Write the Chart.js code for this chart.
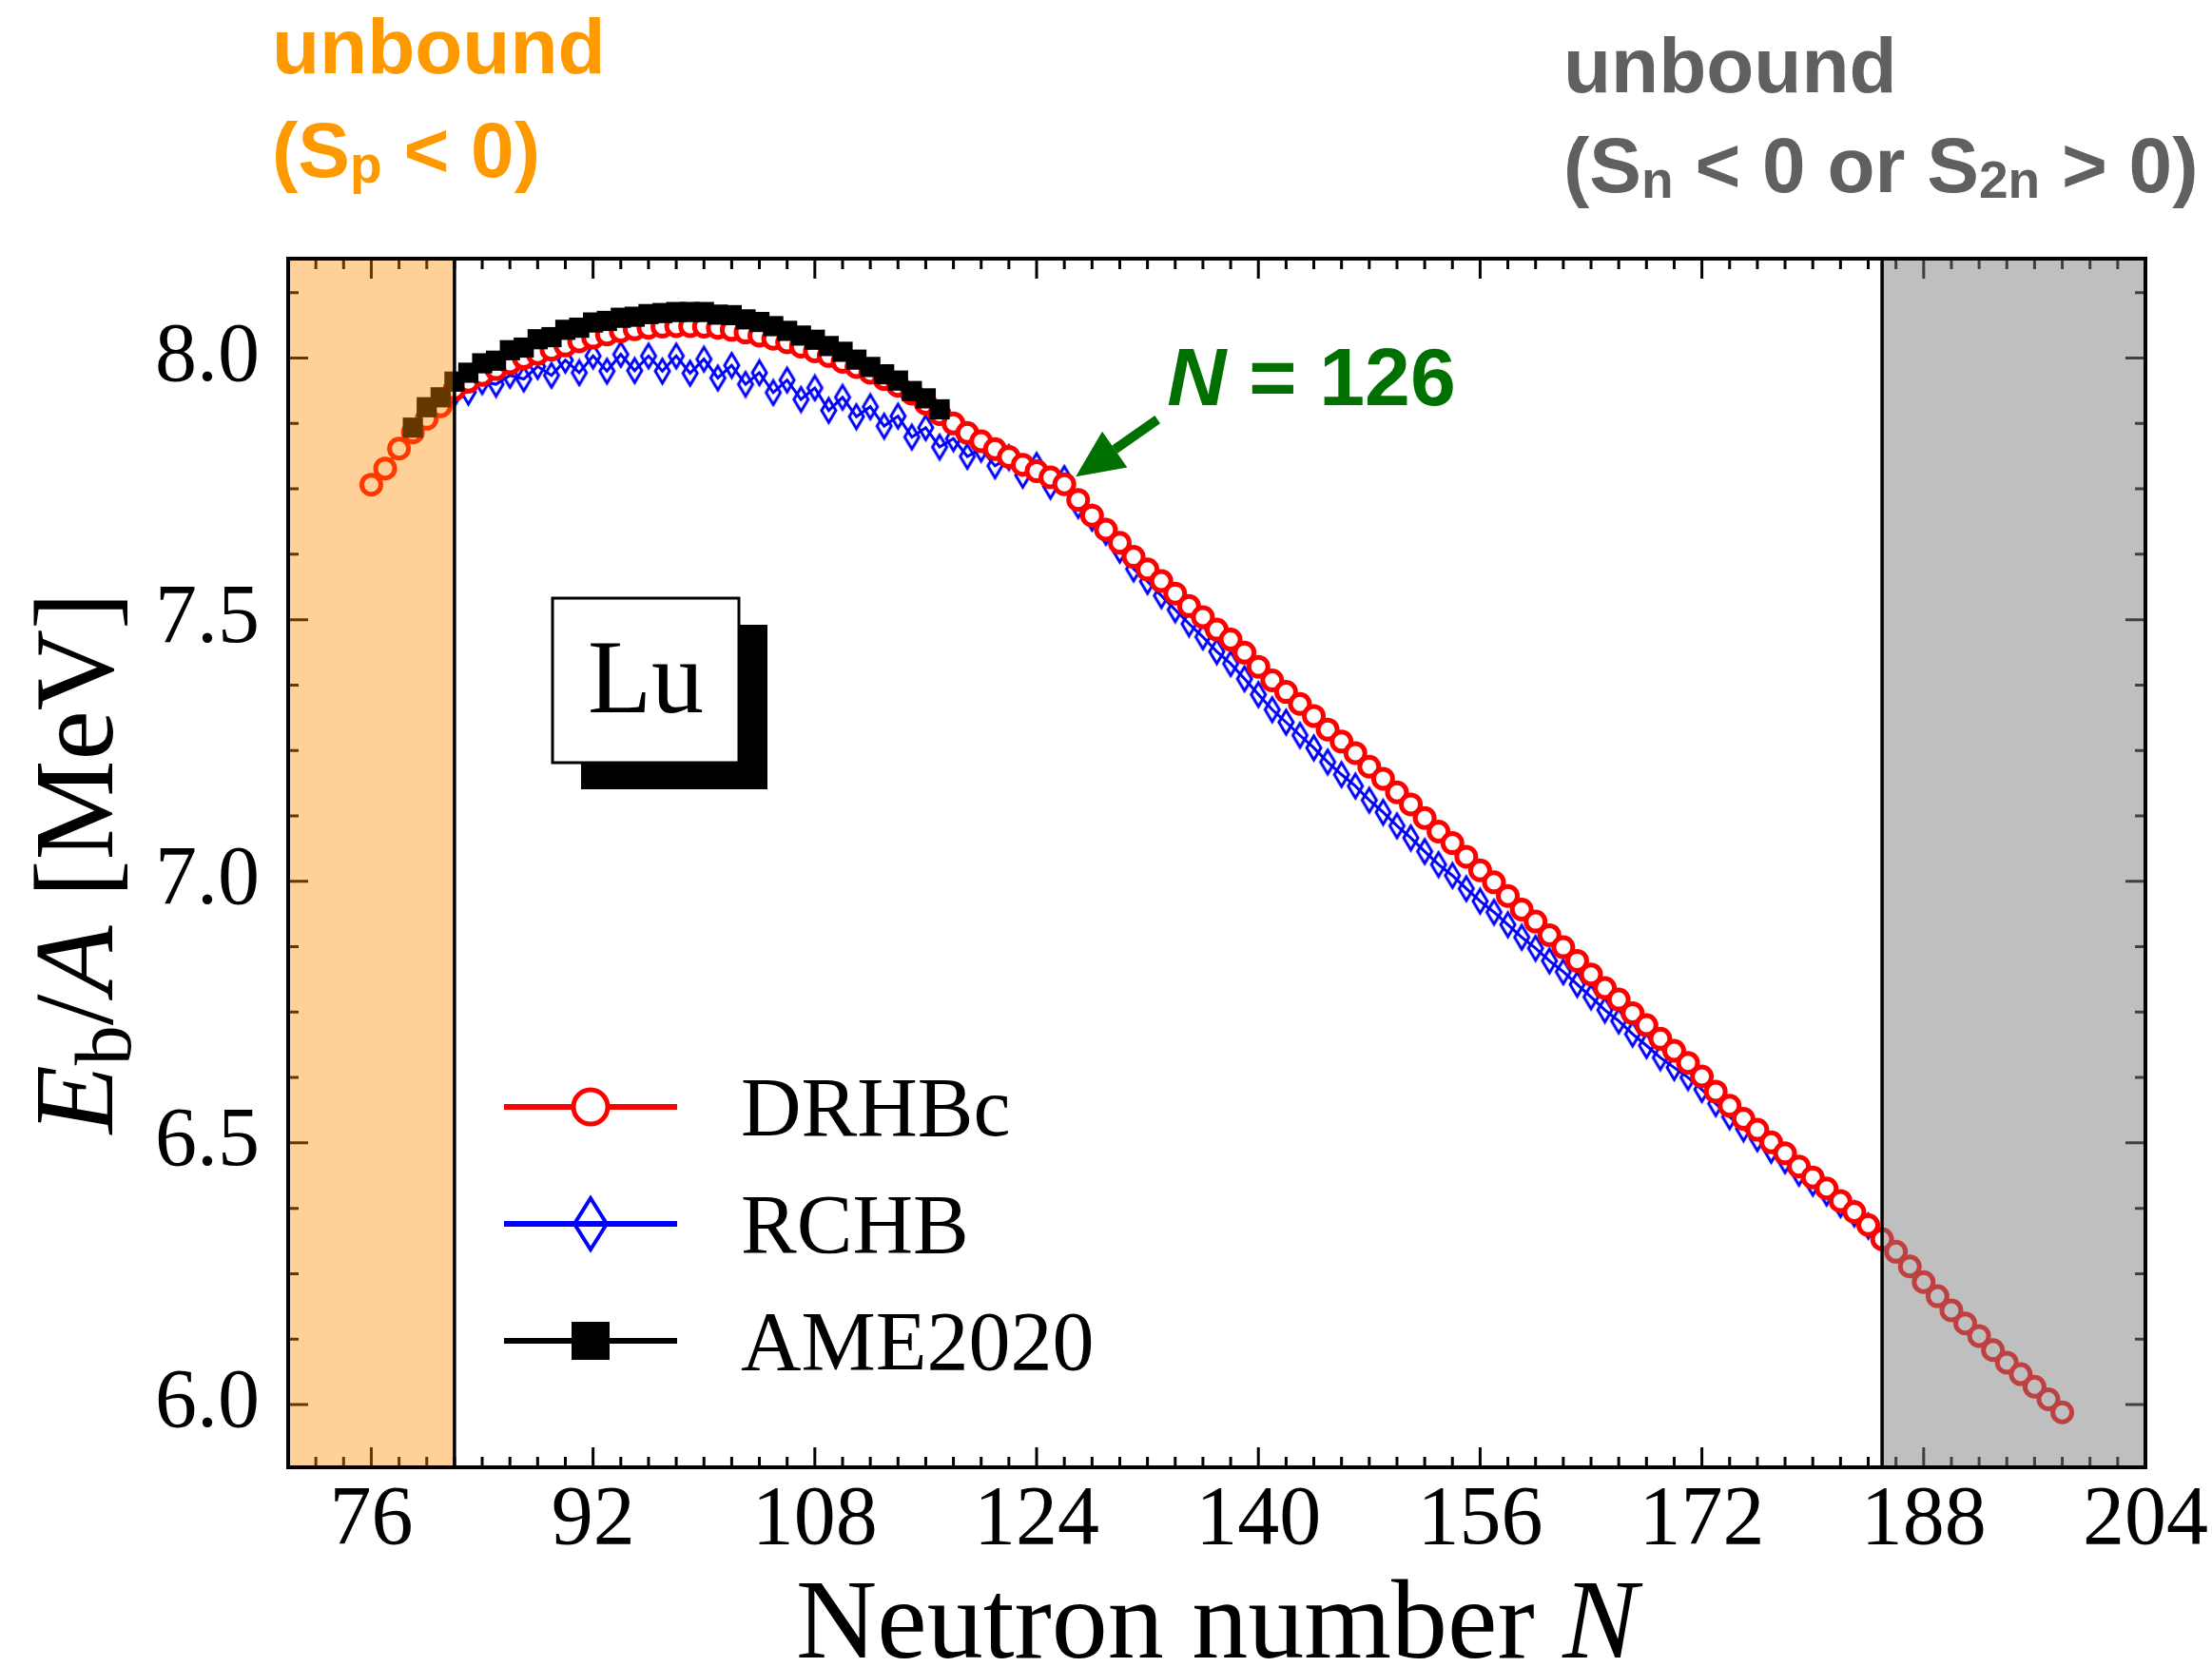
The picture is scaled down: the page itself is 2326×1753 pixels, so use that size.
<!DOCTYPE html>
<html>
<head>
<meta charset="utf-8">
<title>Lu binding energy per nucleon</title>
<script src="https://cdn.jsdelivr.net/npm/chart.js@4/dist/chart.umd.min.js"></script>
<style>
  html, body { margin: 0; padding: 0; background: #fff; }
  #wrap { width: 2326px; height: 1753px; }
</style>
</head>
<body>
<div id="wrap"><canvas id="chart" width="2326" height="1753"></canvas></div>
<script>
// neutron numbers start at these values, one point per N
const drhbcFirstN = 76
const rchbFirstN = 82
const ameFirstN = 79

// E_b/A in MeV
const drhbcEb = [
  7.758, 7.789, 7.827, 7.858, 7.884, 7.908, 7.940, 7.955, 7.968, 7.979,   // 76-85
  7.990, 8.000, 8.008, 8.016, 8.024, 8.032, 8.039, 8.045, 8.051, 8.055,   // 86-95
  8.058, 8.060, 8.061, 8.061, 8.060, 8.058, 8.054, 8.049, 8.043, 8.037,   // 96-105
  8.030, 8.022, 8.013, 8.004, 7.993, 7.983, 7.972, 7.960, 7.947, 7.932,   // 106-115
  7.913, 7.893, 7.875, 7.857, 7.841, 7.826, 7.811, 7.796, 7.784, 7.772,   // 116-125
  7.759, 7.729, 7.699, 7.672, 7.647, 7.620, 7.596, 7.574, 7.550, 7.526,   // 126-135
  7.505, 7.481, 7.462, 7.437, 7.410, 7.384, 7.362, 7.339, 7.316, 7.290,   // 136-145
  7.267, 7.245, 7.219, 7.196, 7.170, 7.147, 7.121, 7.095, 7.073, 7.047,   // 146-155
  7.021, 6.998, 6.972, 6.946, 6.923, 6.897, 6.874, 6.848, 6.822, 6.796,   // 156-165
  6.774, 6.748, 6.725, 6.699, 6.676, 6.653, 6.627, 6.598, 6.571, 6.546,   // 166-175
  6.525, 6.501, 6.480, 6.455, 6.434, 6.413, 6.389, 6.368, 6.343, 6.316,   // 176-185
  6.292, 6.264, 6.234, 6.207, 6.180, 6.155, 6.131, 6.104, 6.080, 6.058,   // 186-195
  6.034, 6.010, 5.985                                                     // 196-198
]

const rchbEb = [
  7.932, 7.935, 7.955, 7.950, 7.967, 7.960, 7.984, 7.967, 7.996, 7.972,   // 82-91
  8.004, 7.975, 8.007, 7.976, 8.004, 7.975, 8.004, 7.971, 7.998, 7.962,   // 92-101
  7.986, 7.950, 7.972, 7.934, 7.958, 7.921, 7.943, 7.900, 7.925, 7.888,   // 102-111
  7.907, 7.870, 7.889, 7.849, 7.867, 7.830, 7.846, 7.812, 7.826, 7.794,   // 112-121
  7.810, 7.776, 7.795, 7.755, 7.770, 7.718, 7.694, 7.667, 7.633, 7.597,   // 122-131
  7.573, 7.546, 7.519, 7.492, 7.467, 7.439, 7.416, 7.387, 7.357, 7.328,   // 132-141
  7.304, 7.279, 7.255, 7.228, 7.204, 7.182, 7.155, 7.132, 7.106, 7.083,   // 142-151
  7.057, 7.032, 7.011, 6.986, 6.962, 6.941, 6.917, 6.893, 6.872, 6.848,   // 152-161
  6.827, 6.803, 6.779, 6.754, 6.733, 6.708, 6.686, 6.663, 6.644, 6.625,   // 162-171
  6.602, 6.575, 6.550, 6.527, 6.508, 6.486, 6.466, 6.442, 6.423, 6.404,   // 172-181
  6.382, 6.364, 6.341                                                     // 182-184
]

const ameEb = [
  7.867, 7.906, 7.925, 7.955, 7.972, 7.990, 7.995, 8.015, 8.020, 8.036,   // 79-88
  8.040, 8.054, 8.058, 8.068, 8.071, 8.077, 8.079, 8.084, 8.086, 8.088,   // 89-98
  8.088, 8.088, 8.083, 8.082, 8.074, 8.069, 8.061, 8.052, 8.043, 8.035,   // 99-108
  8.023, 8.012, 7.997, 7.983, 7.969, 7.957, 7.937, 7.923, 7.902           // 109-117
]

const xTicks = [76, 92, 108, 124, 140, 156, 172, 188, 204]
const yTicks = [6.0, 6.5, 7.0, 7.5, 8.0]

// dripline limits (unbound regions shaded)
const protonDripN = 82
const neutronDripN = 185
const magicN = 126

const serif = '"Liberation Serif", "Times New Roman", serif'
const sans = '"Liberation Sans", Arial, Helvetica, sans-serif'

// turn a value list into {x, y} points
function toPoints(firstN, values) {
  return values.map((v, i) => ({ x: firstN + i, y: v }))
}

// thin diamond marker, hollow
function thinDiamond(w, h, lw, color) {
  const c = document.createElement('canvas')
  c.width = Math.ceil(w + lw * 2)
  c.height = Math.ceil(h + lw * 2)
  const g = c.getContext('2d')
  const cx = c.width / 2, cy = c.height / 2
  g.strokeStyle = color
  g.lineWidth = lw
  g.lineJoin = 'miter'
  g.beginPath()
  g.moveTo(cx, cy - h / 2)
  g.lineTo(cx + w / 2, cy)
  g.lineTo(cx, cy + h / 2)
  g.lineTo(cx - w / 2, cy)
  g.closePath()
  g.stroke()
  return c
}

// draws a run of text pieces with their own fonts / vertical shifts
function drawPieces(ctx, pieces, x, y) {
  let cx = x
  pieces.forEach(p => {
    ctx.font = p.font
    ctx.fillText(p.t, cx, y + (p.dy || 0))
    cx += ctx.measureText(p.t).width
  })
  return cx
}
function piecesWidth(ctx, pieces) {
  let w = 0
  pieces.forEach(p => { ctx.font = p.font; w += ctx.measureText(p.t).width })
  return w
}

const decorations = {
  id: 'decorations',
  beforeDraw(chart) {
    const ctx = chart.ctx
    ctx.save()
    ctx.fillStyle = '#fff'
    ctx.fillRect(0, 0, chart.width, chart.height)
    ctx.restore()
  },
  afterDatasetsDraw(chart) {
    const ctx = chart.ctx
    const a = chart.chartArea
    const xs = chart.scales.x, ys = chart.scales.y

    // inward ticks on all four sides
    ctx.save()
    ctx.strokeStyle = '#000'
    ctx.lineWidth = 3
    for (let n = 70; n <= 204; n += 2) {
      const px = xs.getPixelForValue(n)
      const len = xTicks.includes(n) ? 21 : 11
      ctx.beginPath()
      ctx.moveTo(px, a.bottom); ctx.lineTo(px, a.bottom - len)
      ctx.moveTo(px, a.top); ctx.lineTo(px, a.top + len)
      ctx.stroke()
    }
    for (let k = 0; k <= 17; k++) {
      const v = 6.0 + k * 0.125
      if (v > ys.max) break
      const py = ys.getPixelForValue(v)
      const len = (k % 4 === 0) ? 21 : 11
      ctx.beginPath()
      ctx.moveTo(a.left, py); ctx.lineTo(a.left + len, py)
      ctx.moveTo(a.right, py); ctx.lineTo(a.right - len, py)
      ctx.stroke()
    }

    // unbound regions, see-through so the points show underneath
    const pLeft = xs.getPixelForValue(protonDripN)
    const nRight = xs.getPixelForValue(neutronDripN)
    ctx.fillStyle = 'rgba(255, 140, 0, 0.4)'
    ctx.fillRect(a.left, a.top, pLeft - a.left, a.bottom - a.top)
    ctx.fillStyle = 'rgba(128, 128, 128, 0.5)'
    ctx.fillRect(nRight, a.top, a.right - nRight, a.bottom - a.top)

    ctx.lineWidth = 3.5
    ctx.beginPath()
    ctx.moveTo(pLeft, a.top); ctx.lineTo(pLeft, a.bottom)
    ctx.moveTo(nRight, a.top); ctx.lineTo(nRight, a.bottom)
    ctx.stroke()
    ctx.restore()
  },
  afterDraw(chart) {
    const ctx = chart.ctx
    const a = chart.chartArea
    const xs = chart.scales.x, ys = chart.scales.y
    ctx.save()

    // frame
    ctx.strokeStyle = '#000'
    ctx.lineWidth = 4
    ctx.strokeRect(a.left, a.top, a.right - a.left, a.bottom - a.top)

    // element box with a drop shadow
    const bx = a.left + 278, by = a.top + 357, bw = 196, bh = 173
    ctx.fillStyle = '#000'
    ctx.fillRect(bx + 30, by + 28, bw, bh)
    ctx.fillStyle = '#fff'
    ctx.fillRect(bx, by, bw, bh)
    ctx.lineWidth = 3
    ctx.strokeRect(bx, by, bw, bh)
    ctx.fillStyle = '#000'
    ctx.font = '110px ' + serif
    ctx.textAlign = 'center'
    ctx.textBaseline = 'alphabetic'
    ctx.fillText('Lu', bx + bw / 2, by + 120)

    // legend
    const legendRows = [
      { label: 'DRHBc', color: '#ff0000', mark: 'circle' },
      { label: 'RCHB', color: '#0000ff', mark: 'diamond' },
      { label: 'AME2020', color: '#000000', mark: 'square' }
    ]
    const lx0 = a.left + 227, lx1 = a.left + 409, ly0 = a.top + 892, lstep = 123
    ctx.textAlign = 'left'
    legendRows.forEach((row, i) => {
      const y = ly0 + i * lstep
      const mx = (lx0 + lx1) / 2
      ctx.strokeStyle = row.color
      ctx.lineWidth = 6
      ctx.beginPath(); ctx.moveTo(lx0, y); ctx.lineTo(lx1, y); ctx.stroke()
      if (row.mark === 'circle') {
        ctx.fillStyle = '#fff'
        ctx.lineWidth = 5
        ctx.beginPath(); ctx.arc(mx, y, 18, 0, Math.PI * 2); ctx.fill(); ctx.stroke()
      } else if (row.mark === 'diamond') {
        ctx.lineWidth = 4
        ctx.beginPath()
        ctx.moveTo(mx, y - 27); ctx.lineTo(mx + 17, y); ctx.lineTo(mx, y + 27); ctx.lineTo(mx - 17, y)
        ctx.closePath(); ctx.stroke()
      } else {
        ctx.fillStyle = row.color
        ctx.fillRect(mx - 20, y - 20, 40, 40)
      }
      ctx.fillStyle = '#000'
      ctx.font = '88px ' + serif
      ctx.fillText(row.label, lx1 + 67, y + 30)
    })

    // arrow and label at the N = 126 shell closure
    const px = xs.getPixelForValue(magicN)
    const py = ys.getPixelForValue(drhbcEb[magicN - drhbcFirstN])
    const tipX = px + 12, tipY = py - 8
    const tailX = tipX + 86, tailY = tipY - 60
    const ang = Math.atan2(tipY - tailY, tipX - tailX)
    const headLen = 50, headHalf = 23
    const baseX = tipX - headLen * Math.cos(ang), baseY = tipY - headLen * Math.sin(ang)
    ctx.strokeStyle = '#007000'
    ctx.fillStyle = '#007000'
    ctx.lineWidth = 10
    ctx.beginPath(); ctx.moveTo(tailX, tailY); ctx.lineTo(baseX, baseY); ctx.stroke()
    ctx.beginPath()
    ctx.moveTo(tipX, tipY)
    ctx.lineTo(baseX + headHalf * Math.sin(ang), baseY - headHalf * Math.cos(ang))
    ctx.lineTo(baseX - headHalf * Math.sin(ang), baseY + headHalf * Math.cos(ang))
    ctx.closePath(); ctx.fill()
    drawPieces(ctx, [
      { t: 'N', font: 'italic bold 86px ' + sans },
      { t: ' = 126', font: 'bold 86px ' + sans }
    ], tailX + 10, tailY - 15)

    // unbound labels above the plot
    ctx.fillStyle = '#ff9900'
    ctx.font = 'bold 82px ' + sans
    ctx.fillText('unbound', 286, 77)
    drawPieces(ctx, [
      { t: '(S', font: 'bold 82px ' + sans },
      { t: 'p', font: 'bold 55px ' + sans, dy: 6 },
      { t: ' < 0)', font: 'bold 82px ' + sans }
    ], 286, 186)

    ctx.fillStyle = '#606060'
    ctx.font = 'bold 82px ' + sans
    ctx.fillText('unbound', 1644, 97)
    drawPieces(ctx, [
      { t: '(S', font: 'bold 82px ' + sans },
      { t: 'n', font: 'bold 55px ' + sans, dy: 6 },
      { t: ' < 0 or S', font: 'bold 82px ' + sans },
      { t: '2n', font: 'bold 55px ' + sans, dy: 6 },
      { t: ' > 0)', font: 'bold 82px ' + sans }
    ], 1644, 202)

    // axis titles
    ctx.fillStyle = '#000'
    const xTitle = [
      { t: 'Neutron number ', font: '118px ' + serif },
      { t: 'N', font: 'italic 118px ' + serif }
    ]
    const xw = piecesWidth(ctx, xTitle)
    drawPieces(ctx, xTitle, (a.left + a.right) / 2 - xw / 2, 1743)

    const yTitle = [
      { t: 'E', font: 'italic 118px ' + serif },
      { t: 'b', font: '84px ' + serif, dy: 19 },
      { t: '/', font: '118px ' + serif },
      { t: 'A', font: 'italic 118px ' + serif },
      { t: ' [MeV]', font: '118px ' + serif }
    ]
    const yw = piecesWidth(ctx, yTitle)
    ctx.translate(118, (a.top + a.bottom) / 2)
    ctx.rotate(-Math.PI / 2)
    drawPieces(ctx, yTitle, -yw / 2, 0)

    ctx.restore()
  }
}

const ctx = document.getElementById('chart')

new Chart(ctx, {
  type: 'line',
  data: {
    datasets: [
      {
        label: 'DRHBc',
        data: toPoints(drhbcFirstN, drhbcEb),
        borderColor: '#ff0000',
        borderWidth: 3.5,
        pointStyle: 'circle',
        pointRadius: 10,
        pointBorderWidth: 5,
        pointBackgroundColor: '#ffffff',
        pointBorderColor: '#ff0000',
        order: 2
      },
      {
        label: 'RCHB',
        data: toPoints(rchbFirstN, rchbEb),
        borderColor: '#0000ff',
        borderWidth: 3,
        pointStyle: thinDiamond(15, 25, 3, '#0000ff'),
        pointRadius: 8,
        order: 3
      },
      {
        label: 'AME2020',
        data: toPoints(ameFirstN, ameEb),
        borderColor: '#000000',
        borderWidth: 3,
        pointStyle: 'rect',
        pointRadius: 15,
        pointBorderWidth: 0,
        pointBackgroundColor: '#000000',
        pointBorderColor: '#000000',
        order: 1
      }
    ]
  },
  options: {
    responsive: false,
    animation: false,
    devicePixelRatio: 1,
    layout: { padding: { left: 0, right: 67, top: 272, bottom: 0 } },
    plugins: {
      legend: { display: false },
      tooltip: { enabled: false }
    },
    elements: { line: { tension: 0 } },
    scales: {
      x: {
        type: 'linear',
        min: 70,
        max: 204,
        afterBuildTicks: s => { s.ticks = xTicks.map(v => ({ value: v })) },
        afterFit: s => { s.height = 210 },
        grid: { display: false, drawTicks: false },
        border: { display: false },
        ticks: {
          autoSkip: false,
          maxRotation: 0,
          padding: 4,
          color: '#000',
          font: { family: serif, size: 88 }
        }
      },
      y: {
        type: 'linear',
        min: 5.88,
        max: 8.19,
        afterBuildTicks: s => { s.ticks = yTicks.map(v => ({ value: v })) },
        afterFit: s => { s.width = 303 },
        grid: { display: false, drawTicks: false },
        border: { display: false },
        ticks: {
          padding: 30,
          color: '#000',
          font: { family: serif, size: 88 },
          callback: v => v.toFixed(1)
        }
      }
    }
  },
  plugins: [decorations]
})
</script>
</body>
</html>
